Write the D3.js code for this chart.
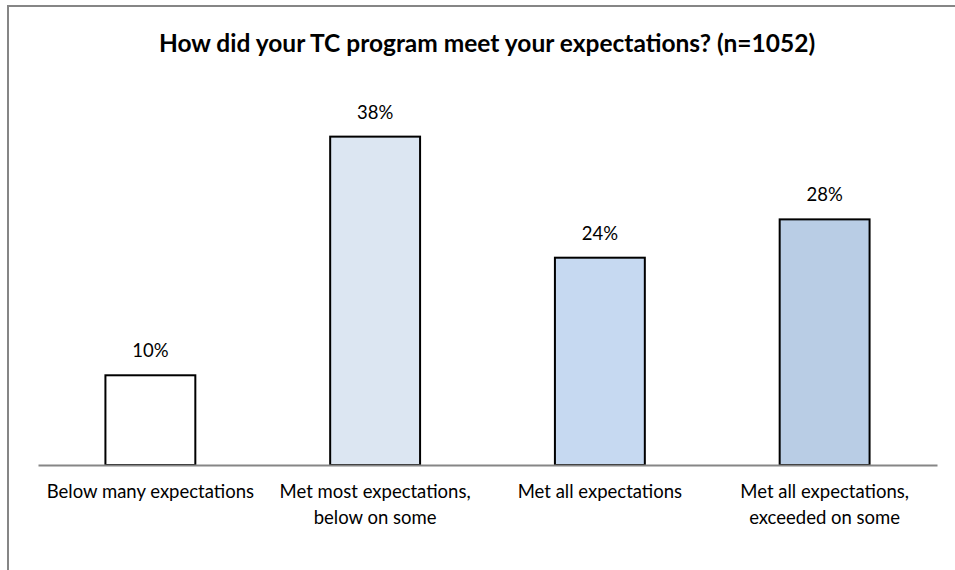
<!DOCTYPE html>
<html>
<head>
<meta charset="utf-8">
<script src="https://cdn.jsdelivr.net/npm/d3@7"></script>
<style>
  html, body { margin: 0; padding: 0; background: #fff; }
  svg { display: block; }
  text { font-family: Lato, "Open Sans", sans-serif; fill: #000; }
</style>
</head>
<body>
<svg id="chart" width="955" height="570"></svg>
<script>
const title = "How did your TC program meet your expectations? (n=1052)";
const categories = [
  ["Below many expectations"],
  ["Met most expectations,", "below on some"],
  ["Met all expectations"],
  ["Met all expectations,", "exceeded on some"]
];
const values = [10.3, 37.7, 23.8, 28.2];
const valueLabels = ["10%", "38%", "24%", "28%"];
const barColors = ["#ffffff", "#dce6f2", "#c6d9f1", "#b9cde5"];

const svg = d3.select("#chart");

// chart border (extends beyond the visible window at right/bottom)
svg.append("rect")
  .attr("x", 8).attr("y", 6)
  .attr("width", 960).attr("height", 600)
  .attr("fill", "#fff")
  .attr("stroke", "#868686").attr("stroke-width", 2);

svg.append("text")
  .attr("x", 487).attr("y", 52)
  .attr("text-anchor", "middle")
  .style("font-weight", "bold")
  .style("font-size", "24.5px")
  .text(title);

const baseY = 465;
const x = d3.scaleBand()
  .domain(d3.range(categories.length))
  .range([38, 937])
  .paddingInner(0.6)
  .paddingOuter(0.3);
const y = d3.scaleLinear().domain([0, 40]).range([baseY, baseY - 348.4]);

const g = svg.append("g");

g.selectAll("rect.bar")
  .data(values)
  .join("rect")
  .attr("class", "bar")
  .attr("x", (d, i) => x(i))
  .attr("y", d => y(d))
  .attr("width", x.bandwidth())
  .attr("height", d => y(0) - y(d))
  .attr("fill", (d, i) => barColors[i])
  .attr("stroke", "#000")
  .attr("stroke-width", 2);

g.selectAll("text.val")
  .data(values)
  .join("text")
  .attr("class", "val")
  .attr("x", (d, i) => x(i) + x.bandwidth() / 2)
  .attr("y", d => y(d) - 18)
  .attr("text-anchor", "middle")
  .style("font-size", "18.5px")
  .text((d, i) => valueLabels[i]);

// x axis line
const axis = d3.axisBottom(x).tickSize(0).tickFormat("");
const axG = svg.append("g").attr("transform", `translate(0,${baseY})`).call(axis);
axG.select(".domain").attr("stroke", "#868686").attr("stroke-width", 2);

// category labels
const cat = svg.selectAll("text.cat")
  .data(categories)
  .join("text")
  .attr("class", "cat")
  .attr("text-anchor", "middle")
  .style("font-size", "18.5px");
cat.each(function(lines, i) {
  const t = d3.select(this);
  lines.forEach((ln, j) => {
    t.append("tspan")
      .attr("x", x(i) + x.bandwidth() / 2)
      .attr("y", 498 + j * 26)
      .text(ln);
  });
});
</script>
</body>
</html>
